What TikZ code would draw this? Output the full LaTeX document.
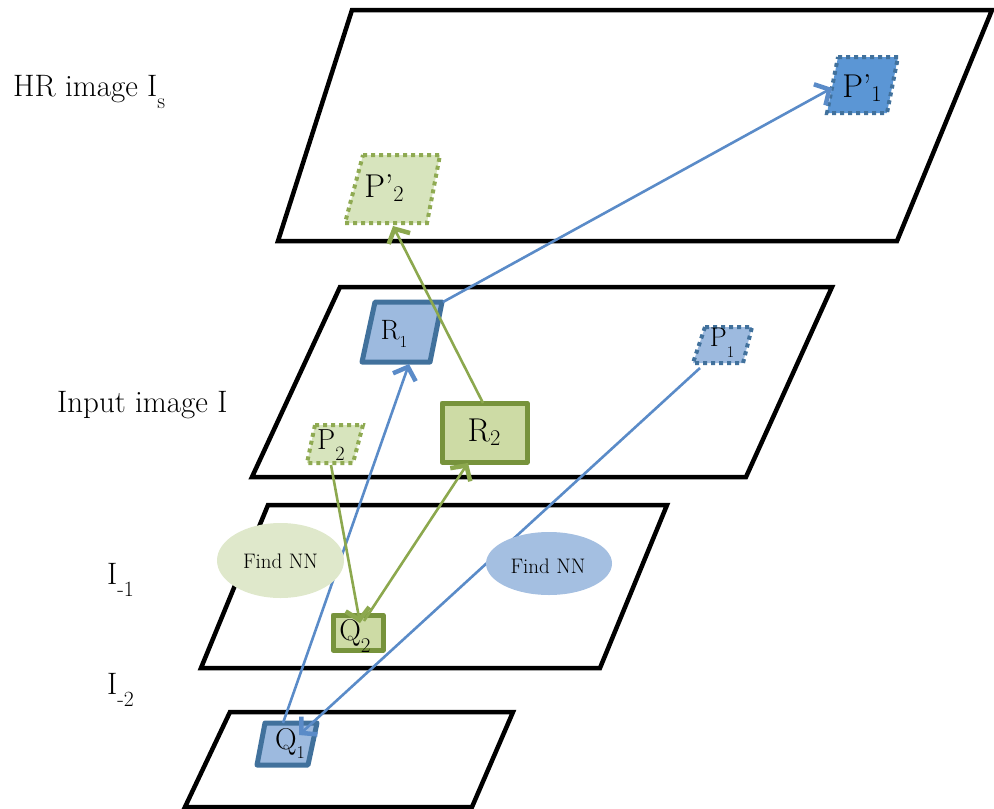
\documentclass[tikz,border=0pt]{standalone}
\usepackage{fontspec}
\usepackage{graphicx}
\usetikzlibrary{arrows.meta}
\definecolor{bline}{HTML}{5A8BC8}
\definecolor{gline}{HTML}{8CA84E}
\definecolor{bdark}{HTML}{41719C}
\definecolor{gdark}{HTML}{77933C}
\definecolor{gdot}{HTML}{8FAA52}
\definecolor{bfillA}{HTML}{5B96D5}
\definecolor{bfillB}{HTML}{9DBADF}
\definecolor{gfillA}{HTML}{D7E4BD}
\definecolor{gfillB}{HTML}{CDDBA5}
\definecolor{gell}{HTML}{DFE8CB}
\definecolor{bell}{HTML}{A4BFE1}
\newcommand\lsub[3][0.3em]{\raisebox{-#1}{\scalebox{#2}{#3}}}
\tikzset{
  plane/.style={draw=black, line width=4.5pt, line join=miter},
  barrow/.style={draw=bline, line width=2.6pt, -{Straight Barb[length=11pt,width=24pt,line width=4.5pt]}},
  garrow/.style={draw=gline, line width=2.6pt, -{Straight Barb[length=11pt,width=24pt,line width=4.5pt]}},
  bdotbox/.style={draw=bdark, line width=4pt, dash pattern=on 4pt off 4pt, line join=miter},
  gdotbox/.style={draw=gdot, line width=4pt, dash pattern=on 4pt off 4pt, line join=miter},
  bsolid/.style={draw=bdark, line width=5pt, line join=round, fill=bfillB},
  gsolid/.style={draw=gdark, line width=5pt, line join=round, fill=gfillB},
  lab/.style={inner sep=0pt, anchor=west, font=\fontsize{31}{34}\selectfont},
  txt/.style={inner sep=0pt, font=\fontsize{#1}{#1}\selectfont}
}
\begin{document}
\begin{tikzpicture}[x=1pt,y=-1pt]
\useasboundingbox (0,0) rectangle (994,809);
% planes
\draw[plane] (352,10) -- (992,10) -- (897,241) -- (278,241) -- cycle;
\draw[plane] (340,287) -- (832,287) -- (746,477) -- (252,477) -- cycle;
\draw[plane] (268,505) -- (667,505) -- (600,668) -- (201,668) -- cycle;
\draw[plane] (230,712) -- (513,712) -- (472,807) -- (185,807) -- cycle;
% plane labels
\node[lab] (lHR) at (13,92) {HR image I\lsub[0.4em]{0.7}{s}};
\node[lab] (lIn) at (57,405) {Input image I};
\node[lab] (lI1) at (107,580) {I\lsub[0.4em]{0.7}{-1}};
\node[lab] (lI2) at (107,690) {I\lsub[0.4em]{0.7}{-2}};
% P'1
\fill[bfillA] (838,57) -- (898,57) -- (887,113) -- (827,113) -- cycle;
\draw[bdotbox] (838,57) -- (898,57) -- (887,113) -- (827,113) -- cycle;
\node[txt=33] (Pp1) at (862,88) {P’\lsub[0.12em]{0.68}{1}};
\coordinate (Pp1w) at (832,88);
% P'2
\fill[gfillA] (363,155) -- (440,155) -- (427,223) -- (345,223) -- cycle;
\draw[gdotbox] (363,155) -- (440,155) -- (427,223) -- (345,223) -- cycle;
\node[txt=33] (Pp2) at (384,188) {P’\lsub[0.12em]{0.68}{2}};
\coordinate (Pp2s) at (393,226);
% R1
\draw[bsolid] (375,302) -- (442,302) -- (430,362) -- (362,362) -- cycle;
\node[txt=28] (R1) at (394,334) {R\lsub[0.3em]{0.6}{1}};
\coordinate (R1s) at (409,364);
\coordinate (R1ne) at (443,302);
% P1
\fill[bfillB] (705,327) -- (752,327) -- (743,363) -- (693,363) -- cycle;
\draw[bdotbox] (705,327) -- (752,327) -- (743,363) -- (693,363) -- cycle;
\node[txt=27] (P1) at (722,343) {P\lsub[0.4em]{0.6}{1}};
\coordinate (P1sw) at (700,368);
% P2
\fill[gfillA] (315,425) -- (363,425) -- (353,463) -- (307,463) -- cycle;
\draw[gdotbox] (315,425) -- (363,425) -- (353,463) -- (307,463) -- cycle;
\node[txt=29] (P2) at (331,445) {P\lsub[0.4em]{0.7}{2}};
\coordinate (P2s) at (331,465);
% R2
\draw[gsolid] (442,403) rectangle (527,462);
\node[txt=33] (R2) at (484,432) {R\lsub[0.12em]{0.68}{2}};
\coordinate (R2n) at (483,403);
\coordinate (R2s) at (468,463);
% Q2
\draw[gsolid] (333,615) rectangle (383,650);
\node[txt=30] (Q2) at (355,636) {Q\lsub[0.4em]{0.7}{2}};
\coordinate (Q2n) at (360,623);
\coordinate (Q2ne) at (364,621);
% Q1
\draw[bsolid] (265,723) -- (317,723) -- (308,765) -- (257,765) -- cycle;
\node[txt=30] (Q1) at (290,744) {Q\lsub[0.3em]{0.6}{1}};
\coordinate (Q1n) at (283,723);
\coordinate (Q1c) at (299,735);
% arrows
\draw[barrow] (Q1n) -- (R1s);
\draw[barrow] (R1ne) -- (Pp1w);
\draw[barrow] (P1sw) -- (Q1c);
\draw[garrow] (R2n) -- (Pp2s);
\draw[garrow] (P2s) -- (Q2n);
\draw[garrow] (Q2ne) -- (R2s);
% Find NN ellipses
\fill[gell] (280.5,560.5) ellipse [x radius=63.5, y radius=37.5];
\node[txt=21] (nn1) at (280.5,561) {Find NN};
\fill[bell] (549,563.5) ellipse [x radius=63, y radius=31.5];
\node[txt=21] (nn2) at (548,566) {Find NN};
\end{tikzpicture}
\end{document}
